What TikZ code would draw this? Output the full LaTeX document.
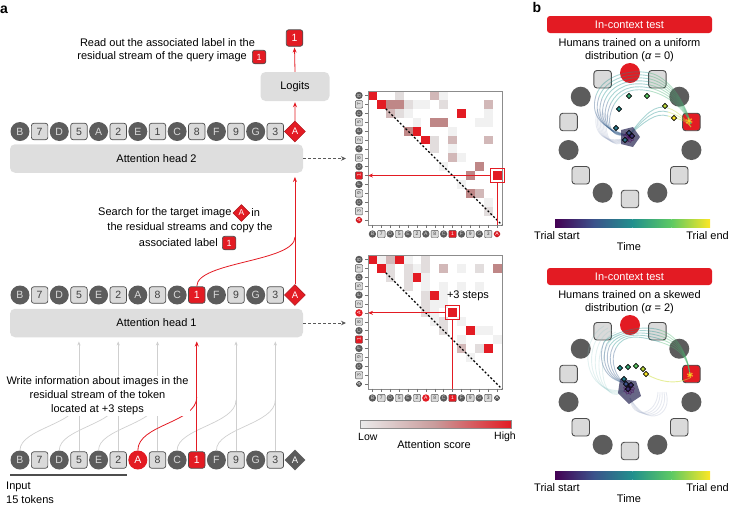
\documentclass[tikz,border=0pt]{standalone}
\usepackage{fontspec}
\setmainfont{Liberation Sans}
\usetikzlibrary{shapes.geometric,arrows.meta,positioning,calc}
\definecolor{tokred}{HTML}{E31B23}
\definecolor{tokdark}{HTML}{5C5C5C}
\definecolor{toklight}{HTML}{DADADA}
\definecolor{tokline}{HTML}{4D4D4D}
\definecolor{boxgray}{HTML}{DEDEDE}
\definecolor{arrgray}{HTML}{CFCFCF}
\definecolor{hmc1}{HTML}{F1F1F1}
\definecolor{hmc2}{HTML}{E2DDDD}
\definecolor{hmc3}{HTML}{D2B8B8}
\definecolor{hmc4}{HTML}{BF8787}
\definecolor{hmc5}{HTML}{E31B23}
\definecolor{hmlow}{HTML}{EBEBEB}
\definecolor{hmmid}{HTML}{C99A9A}
\definecolor{vir1}{HTML}{440154}
\definecolor{vir2}{HTML}{3B528B}
\definecolor{vir3}{HTML}{21908D}
\definecolor{vir4}{HTML}{5DC963}
\definecolor{vir5}{HTML}{FDE725}
\definecolor{blobdark}{HTML}{34335E}
\newcommand\Xo{20}
\newcommand\Dx{19.64}
\newcommand\Cell{8.9}
\newcommand\Hx{368}
\newcommand\SeqTop{B/c,7/s,D/c,5/s,A/c,2/s,E/c,1/s,C/c,8/s,F/c,9/s,G/c,3/s,A/dr}
\newcommand\SeqMid{B/c,7/s,D/c,5/s,E/c,2/s,A/c,8/s,C/c,1/sr,F/c,9/s,G/c,3/s,A/dr}
\newcommand\SeqLow{B/c,7/s,D/c,5/s,E/c,2/s,A/cr,8/s,C/c,1/sr,F/c,9/s,G/c,3/s,A/d}
\tikzset{
  tokc/.style={
    shape = circle,
    fill = tokdark,
    text = white!85!black,
    inner sep = 0pt,
    minimum size = 19pt,
    font = \fontsize{10.5}{10.5}\selectfont
  },
  tokcr/.style={tokc, fill=tokred, text=white},
  toks/.style={
    shape = rectangle,
    rounded corners = 2.5pt,
    draw = tokline,
    line width = 0.7pt,
    fill = toklight,
    text = black!75,
    inner sep = 0pt,
    minimum size = 16.5pt,
    font = \fontsize{10.5}{10.5}\selectfont
  },
  toksr/.style={toks, fill=tokred, text=white},
  tokd/.style={
    shape = diamond,
    aspect = 1,
    fill = tokdark,
    text = white,
    inner sep = 0pt,
    minimum size = 21pt,
    font = \fontsize{9.5}{9.5}\selectfont
  },
  tokdr/.style={tokd, fill=tokred, draw=tokred!75!black, line width=0.5pt},
  mini/.style={
    minimum size = 7.4pt,
    rounded corners = 1pt,
    line width = 0.4pt,
    font = \fontsize{5}{5}\selectfont
  },
}
\tikzset{
  headbox/.style={
    shape = rectangle,
    rounded corners = 5pt,
    fill = boxgray,
    minimum width = 293pt,
    minimum height = 28.5pt,
    font = \fontsize{11}{11}\selectfont
  },
  logitbox/.style={headbox, minimum width=69pt, minimum height=29pt},
  desc/.style={
    font = \fontsize{11}{14}\selectfont,
    align = center,
    inner sep = 1pt
  },
  redarr/.style={draw=tokred, line width=0.8pt, -{Stealth[length=5pt,width=4pt]}},
  redline/.style={draw=tokred, line width=0.8pt},
  grayarr/.style={draw=arrgray, line width=0.7pt, -{Stealth[length=4pt,width=3.2pt]}},
  grayline/.style={draw=arrgray, line width=0.7pt},
  dasharr/.style={draw=black!65, line width=0.9pt, dash pattern=on 3pt off 2pt, -{Stealth[length=5pt,width=4.5pt]}},
  mapframe/.style={
    draw = black!45,
    line width = 0.6pt,
    minimum width = 133.5pt,
    minimum height = 133.5pt,
    inner sep = 0pt,
    anchor = north west
  },
  maptick/.style={draw=black!55, line width=0.5pt},
  diagline/.style={draw=black, line width=1.1pt, dash pattern=on 2pt off 2pt},
  hilite/.style={draw=tokred, line width=0.9pt, minimum size=14pt, inner sep=0pt},
  panel/.style={font=\bfseries\fontsize{14}{14}\selectfont, inner sep=0pt},
}
\tikzset{
  ringc/.style={shape=circle, fill=tokdark, minimum size=20pt, inner sep=0pt},
  ringcr/.style={ringc, fill=tokred},
  rings/.style={shape=rectangle, rounded corners=3pt, draw=tokline, line width=0.9pt, fill=toklight, minimum size=17.5pt, inner sep=0pt},
  ringsr/.style={rings, fill=tokred},
  banner/.style={
    shape = rectangle,
    rounded corners = 3pt,
    fill = tokred,
    text = white,
    minimum width = 165pt,
    minimum height = 17pt,
    font = \fontsize{11}{11}\selectfont
  },
  traj/.style={line width=0.9pt, opacity=0.38},
  tmark/.style={shape=diamond, aspect=1, draw=black, line width=0.6pt, inner sep=0pt, minimum size=5.5pt},
}
\begin{document}
\begin{tikzpicture}[x=1pt,y=-1pt]
\useasboundingbox (0,0) rectangle (730,507);

% panel a
\node[panel] (lab-a) at (4,10) {a};

\foreach \lab/\kind [count=\i from 0] in \SeqTop
  \node[tok\kind] (up-\i) at ({\Xo+\Dx*\i},131.5) {\lab};
\foreach \lab/\kind [count=\i from 0] in \SeqMid
  \node[tok\kind] (mid-\i) at ({\Xo+\Dx*\i},295) {\lab};
\foreach \lab/\kind [count=\i from 0] in \SeqLow
  \node[tok\kind] (low-\i) at ({\Xo+\Dx*\i},460) {\lab};

\node[headbox] (head2) at (156.5,158.5) {Attention head 2};
\node[headbox] (head1) at (156.5,323) {Attention head 1};
\node[logitbox] (logits) at (295,86.5) {Logits};
\node[toksr] (out) at (294.5,38) {1};

\draw[redarr, shorten >=1pt] (up-14.north) -- (logits.south);
\draw[redarr, shorten >=1pt] (logits.north) -- (out.south);

\coordinate (join2) at (295,237);
\draw[redarr, shorten >=4pt] (mid-14.north) -- (mid-14.north |- head2.south);
\draw[redline] (mid-9.north) .. controls +(0,-25) and +(0,25) .. (join2);

\foreach \i/\j in {3/0,5/2,7/4,11/8,13/10} {
  \coordinate (low-j\i) at ({\Xo+\Dx*\i},400);
  \draw[grayarr, shorten >=4pt] (low-\i.north) -- (low-\i.north |- head1.south);
  \draw[grayline] (low-\j.north) .. controls +(0,-22) and +(0,24) .. (low-j\i);
}
\coordinate (low-j9) at ({\Xo+\Dx*9},397);
\draw[redarr, shorten >=4pt] (low-9.north) -- (low-9.north |- head1.south);
\draw[redline] (low-6.north) .. controls +(0,-26) and +(0,26) .. (low-j9);

\draw[tokline, line width=1.3pt] ($(low-0.west)+(0,15)$) -- ($(low-5.east)+(0,15)$);
\node[desc, anchor=west, align=left] (input) at (5,493) {Input\\15 tokens};

\node[desc, fill=white] (write) at (97.5,396) {Write information about images in the\\residual stream of the token\\located at +3 steps};

\node[desc] (read1) at (167.5,43) {Read out the associated label in the};
\node[desc, anchor=east] (read2) at (248,57) {residual stream of the query image};
\node[toksr, minimum size=13.5pt, font=\fontsize{9}{9}\selectfont, right=4pt of read2] (readtok) {1};

\node[desc, anchor=west] (srch1) at (97,213) {Search for the target image};
\node[tokdr, minimum size=17pt, font=\fontsize{8.5}{8.5}\selectfont, right=0pt of srch1] (srchtok) {A};
\node[desc, right=0pt of srchtok] (srch1b) {in};
\node[desc] (srch2) at (190,228) {the residual streams and copy the};
\node[desc, anchor=east] (srch3) at (219,243) {associated label};
\node[toksr, minimum size=13.5pt, font=\fontsize{9}{9}\selectfont, right=3pt of srch3] (srch3tok) {1};

% attention map of head 2
\foreach \r/\c/\v in {0/0/5,0/3/2,0/7/3,0/8/1,1/1/5,1/2/4,1/3/4,1/4/2,1/5/1,1/6/1,1/8/2,1/13/3,
  2/2/3,2/3/2,2/4/1,2/10/5,2/13/1,3/5/1,3/7/4,3/8/4,3/12/1,3/13/1,4/4/4,4/5/5,4/9/1,
  5/6/5,5/7/2,5/9/3,5/13/3,6/7/2,6/9/1,7/9/3,7/10/1,8/8/1,8/12/4,9/11/4,9/14/5,
  10/10/1,11/11/4,11/12/3,12/13/1,13/13/2}
  \fill[fill=hmc\v] ({\Hx+\c*\Cell},{91+\r*\Cell}) rectangle ++(\Cell,\Cell);
\node[mapframe] (map2) at (\Hx,91) {};
\foreach \lab/\kind [count=\i from 0] in \SeqMid {
  \draw[maptick] ({\Hx+(\i+0.5)*\Cell},224.5) -- ++(0,3);
  \draw[maptick] (\Hx,{91+(\i+0.5)*\Cell}) -- ++(-3,0);
  \node[tok\kind, mini] (map2c-\i) at ({\Hx+(\i+0.5)*\Cell},234) {\lab};
  \node[tok\kind, mini, rotate=90] (map2r-\i) at (359,{91+(\i+0.5)*\Cell}) {\lab};
}
\draw[diagline] ($(map2.north west)+(2*\Cell,2*\Cell)$) -- (map2.south east);
\node[hilite] (hl2) at ({\Hx+14.5*\Cell},{91+9.5*\Cell}) {};
\draw[redarr] (hl2.west) -- (hl2.west -| map2.west);
\draw[redline] (hl2.south) -- (hl2.south |- map2.south);
\coordinate (map2in) at (346,158.5);
\draw[dasharr] (head2.east) -- (map2in);

% attention map of head 1
\foreach \r/\c/\v in {0/0/5,0/1/1,0/2/3,0/3/5,0/4/1,0/6/2,1/1/5,1/2/2,1/4/2,1/5/1,1/6/2,1/8/3,1/10/1,1/12/2,1/14/4,
  2/2/2,2/4/2,2/5/5,2/6/1,3/4/2,3/6/1,3/8/1,3/10/1,3/12/1,4/6/2,4/7/5,4/8/1,5/6/2,5/7/1,5/8/1,
  6/6/2,6/7/1,6/9/5,7/7/1,7/8/2,7/10/1,8/8/2,8/11/5,8/12/1,8/13/1,9/10/1,9/14/1,
  10/10/3,10/12/2,10/13/5,11/11/1}
  \fill[fill=hmc\v] ({\Hx+\c*\Cell},{255+\r*\Cell}) rectangle ++(\Cell,\Cell);
\node[mapframe] (map1) at (\Hx,255) {};
\foreach \lab/\kind [count=\i from 0] in \SeqLow {
  \draw[maptick] ({\Hx+(\i+0.5)*\Cell},388.5) -- ++(0,3);
  \draw[maptick] (\Hx,{255+(\i+0.5)*\Cell}) -- ++(-3,0);
  \node[tok\kind, mini] (map1c-\i) at ({\Hx+(\i+0.5)*\Cell},398) {\lab};
  \node[tok\kind, mini, rotate=90] (map1r-\i) at (359,{255+(\i+0.5)*\Cell}) {\lab};
}
\draw[diagline] ($(map1.north west)+(2*\Cell,2*\Cell)$) -- (map1.south east);
\node[hilite] (hl1) at ({\Hx+9.5*\Cell},{255+6.5*\Cell}) {};
\draw[redarr] (hl1.west) -- (hl1.west -| map1.west);
\draw[redline] (hl1.south) -- (hl1.south |- map1.south);
\node[desc] (steps) at (468,296) {+3 steps};
\coordinate (map1in) at (346,323);
\draw[dasharr] (head1.east) -- (map1in);

\node[draw=black!45, line width=0.5pt, minimum width=151pt, minimum height=8pt, inner sep=0pt,
  left color=hmlow, right color=tokred, middle color=hmmid] (attbar) at (435.5,424) {};
\node[desc, font=\fontsize{10.5}{10.5}\selectfont, anchor=west] (attlow) at (357,436.5) {Low};
\node[desc, font=\fontsize{10.5}{10.5}\selectfont, anchor=east] (atthigh) at (517,436.5) {High};
\node[desc] (atttitle) at (434,445) {Attention score};

% panel b
\node[panel] (lab-b) at (537,7) {b};
\foreach \yo/\nm/\txt in {0/uni/{uniform\\distribution (\textit{α} = 0)},252/skw/{skewed\\distribution (\textit{α} = 2)}} {
  \node[banner] (ban-\nm) at (629.5,{24.5+\yo}) {In-context test};
  \node[desc, font=\fontsize{11}{13}\selectfont] (hum-\nm) at (629.5,{50.5+\yo}) {Humans trained on a \txt};
  \foreach \kind [count=\k from 0] in {cr,s,c,sr,c,s,c,s,c,s,c,s,c,s}
    \node[ring\kind] (\nm-\k) at ({630+63*cos(90-\k*360/14)},{136+\yo-63*sin(90-\k*360/14)}) {};
  \foreach \ca/\cb [count=\s from 0] in {vir1/vir2,vir2/vir3,vir3/vir4,vir4/vir5}
    \shade[left color=\ca, right color=\cb] ({555+\s*38.75},{219+\yo}) rectangle ++(38.9,8);
  \node[desc, anchor=west] (tstart-\nm) at (533,{235.5+\yo}) {Trial start};
  \node[desc, anchor=east] (tend-\nm) at (730,{235.5+\yo}) {Trial end};
  \node[desc] (time-\nm) at (629,{247+\yo}) {Time};
}

% trajectories, uniform
\foreach \d in {-10,-7,...,11}
  \draw[traj, vir2!50!white, opacity=0.25] (627,138) .. controls ({606+\d/2},{150+\d/2}) and ({596+\d/2},{130}) .. ({603+\d/2},{112+\d/3});
\foreach \d in {-9,-6,...,9} {
  \draw[traj, vir2!80!vir3] (627,135) .. controls (606,{134+\d/2}) and ({598+\d},118) .. ({605+\d},{100+\d/2});
  \draw[traj, vir3] ({605+\d},{100+\d/2}) .. controls ({612+\d},{84+\d}) and (630,{78+\d}) .. (650,{82+\d});
  \draw[traj, vir4!60!vir3] (650,{82+\d}) .. controls (668,{86+\d}) and (684,{104+\d/2}) .. (691,124);
}
\foreach \d in {-4,0,4} {
  \draw[traj, vir3] (630,134) .. controls (645,{118+\d}) and (655,{108+\d}) .. (668,{112+\d});
  \draw[traj, vir5!60!vir4] (668,{112+\d}) .. controls (678,{115+\d}) and (686,120) .. (691,127);
}
\fill[blobdark, opacity=0.75] (621,130) -- (633,127) -- (640,137) -- (633,147) -- (621,144) -- cycle;
\foreach \a in {0,40,...,320}
  \draw[traj, vir1, opacity=0.4] (629,137) .. controls +(\a:9) and +(\a+70:9) .. (629,137);
\foreach \a in {20,80,...,320}
  \draw[vir5!85!orange, line width=1.4pt, opacity=0.7] (689,121) -- +(\a:3.5);
\foreach \px/\py/\cl [count=\m] in {629/96/vir3!50!vir4,647/96/vir4,619/109/vir3,665/106/vir4!40!vir5,674/118/vir5,
  616/128/vir3!60!vir2,629/133/vir2,632/136/vir2!60!vir1,625/140/vir3!50!vir2}
  \node[tmark, fill=\cl] (um-\m) at (\px,\py) {};

% trajectories, skewed
\foreach \d in {-8,-4,0,4,8} {
  \draw[traj, vir3!50!white, opacity=0.25] (626,390) .. controls ({590+\d},{405+\d}) and ({586+\d},340) .. ({612+\d},{330+\d/2});
  \draw[traj, vir2!50!white, opacity=0.25] (630,398) .. controls ({640+\d},{425+\d/2}) and ({665+\d},415) .. ({662+\d/2},392);
}
\foreach \d in {-6,-3,0,3,6} {
  \draw[traj, vir2!80!vir3] (626,383) .. controls ({610+\d},380) and ({603+\d},360) .. ({610+\d},{345+\d/2});
  \draw[traj, vir3] ({610+\d},{345+\d/2}) .. controls ({618+\d},333) and (640,{330+\d}) .. (660,{336+\d});
  \draw[traj, vir4!70!vir3] (660,{336+\d}) .. controls (680,{342+\d}) and (688,358) .. (690,375);
}
\draw[traj, vir5!70!vir4, opacity=0.5] (646,374) .. controls (660,382) and (675,385) .. (690,378);
\fill[blobdark, opacity=0.75] (620,379) -- (636,381) -- (641,396) -- (629,404) -- (618,393) -- cycle;
\foreach \a in {0,40,...,320}
  \draw[traj, vir1, opacity=0.4] (629,389) .. controls +(\a:9) and +(\a+70:9) .. (629,389);
\foreach \a in {20,80,...,320}
  \draw[vir5!85!orange, line width=1.4pt, opacity=0.7] (690,375) -- +(\a:3);
\foreach \px/\py/\cl [count=\m] in {620/368/vir3,628/367/vir3!50!vir4,636/366/vir4,643/369/vir4!40!vir5,646/374/vir5,
  624/379/vir3!70!vir2,626/384/vir2,628/389/vir2!60!vir1,631/385/vir2!60!vir1}
  \node[tmark, fill=\cl] (sm-\m) at (\px,\py) {};
\end{tikzpicture}
\end{document}
